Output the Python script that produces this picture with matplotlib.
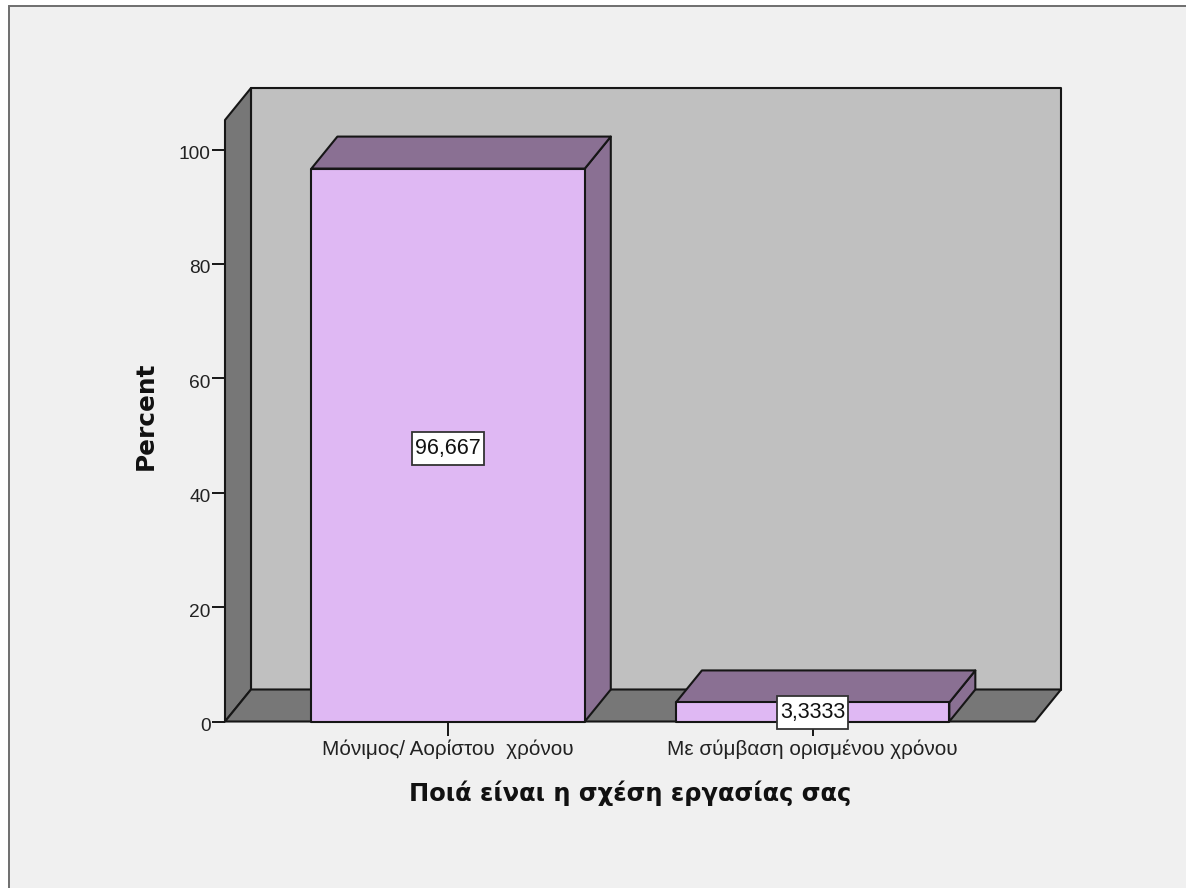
import matplotlib
matplotlib.use("Agg")
import matplotlib.pyplot as plt
from matplotlib.patches import Polygon, Rectangle
from matplotlib.path import Path
from matplotlib.transforms import ScaledTranslation

categories = ["Μόνιμος/ Αορίστου  χρόνου", "Με σύμβαση ορισμένου χρόνου"]
percent = [96.667, 3.3333]
value_labels = ["96,667", "3,3333"]
y_ticks = [0, 20, 40, 60, 80, 100]

W, H = 1186, 888
DEPTH_X = 0.0713   # 26 px of fake depth, in category units
DEPTH_Y = 5.594    # 32 px of fake depth, in percent units
BAR_W = 0.75
XMIN, XMAX = -0.612, 1.61
YMIN, YMAX = 0, 105.16

EDGE = "#161616"
LW = 1.5


def poly(ax, pts, color, z):
    ax.add_patch(Polygon(pts, closed=True, facecolor=color, edgecolor=EDGE,
                         linewidth=LW, joinstyle="round", clip_on=False, zorder=z))


def label_box(x0, y0, width, height, mutation_size):
    # value box: tight at the sides, roomier above and below the digits
    px, py = 3, 6
    x1, y1 = x0 + width + px, y0 + height + py
    x0, y0 = x0 - px, y0 - py
    return Path([(x0, y0), (x1, y0), (x1, y1), (x0, y1), (x0, y0)], closed=True)


fig = plt.figure(figsize=(W / 100, H / 100), dpi=100, facecolor="white")
fig.add_artist(Rectangle((9 / W, -0.02), 1.02, 1 + 0.02 - 6.5 / H, transform=fig.transFigure,
                         facecolor="#F0F0F0", edgecolor="#6E6E6E", linewidth=1.4, zorder=-1))

ax = fig.add_axes([225 / W, 1 - 721.5 / H, 810 / W, 601.5 / H])
ax.set_xlim(XMIN, XMAX)
ax.set_ylim(YMIN, YMAX)
ax.patch.set_visible(False)
for s in ax.spines.values():
    s.set_visible(False)

# back wall, left wall and floor of the 3D box
poly(ax, [(XMIN + DEPTH_X, DEPTH_Y), (XMAX + DEPTH_X, DEPTH_Y),
          (XMAX + DEPTH_X, YMAX + DEPTH_Y), (XMIN + DEPTH_X, YMAX + DEPTH_Y)], "#C0C0C0", 1)
poly(ax, [(XMIN, 0), (XMIN + DEPTH_X, DEPTH_Y),
          (XMIN + DEPTH_X, YMAX + DEPTH_Y), (XMIN, YMAX)], "#777777", 1.1)
poly(ax, [(XMIN, 0), (XMAX, 0), (XMAX + DEPTH_X, DEPTH_Y), (XMIN + DEPTH_X, DEPTH_Y)], "#777777", 1.2)

# bars: front face, side and top
for i, val in enumerate(percent):
    x0 = i - BAR_W / 2
    x1 = i + BAR_W / 2
    poly(ax, [(x1, 0), (x1 + DEPTH_X, DEPTH_Y), (x1 + DEPTH_X, val + DEPTH_Y), (x1, val)], "#8A7093", 3)
    poly(ax, [(x0, val), (x1, val), (x1 + DEPTH_X, val + DEPTH_Y), (x0 + DEPTH_X, val + DEPTH_Y)], "#8A7093", 3)
    poly(ax, [(x0, 0), (x1, 0), (x1, val), (x0, val)], "#DFB8F3", 4)
    ax.text(i, val * 0.493, value_labels[i], ha="center", va="center", fontsize=15.5,
            family="Liberation Sans", color="#111111", zorder=10, clip_on=False,
            bbox=dict(boxstyle=label_box, facecolor="white", edgecolor="#333333", linewidth=1.3))

ax.set_xticks(range(len(categories)), categories, family="Liberation Sans", fontsize=14.9, color="#222222")
ax.set_yticks(y_ticks)
ax.set_yticklabels([str(t) for t in y_ticks], family="Liberation Sans", fontsize=13.8, color="#222222")
ax.tick_params(axis="x", length=10, width=1.4, color=EDGE, pad=2.7)
ax.tick_params(axis="y", length=9.5, width=1.4, color=EDGE, pad=1)

# the y numbers sit a little below their tick marks
shift = ScaledTranslation(0, -3 / 100, fig.dpi_scale_trans)
for lab in ax.get_yticklabels():
    lab.set_transform(lab.get_transform() + shift)

ax.set_xlabel("Ποιά είναι η σχέση εργασίας σας", fontsize=17.4, fontweight="bold", labelpad=16, color="#111111")
ax.set_ylabel("Percent", fontsize=17.8, fontweight="bold", color="#111111")
ax.yaxis.set_label_coords(-0.083, 0.508)

fig.savefig("out.png", dpi=100, facecolor=fig.get_facecolor())
